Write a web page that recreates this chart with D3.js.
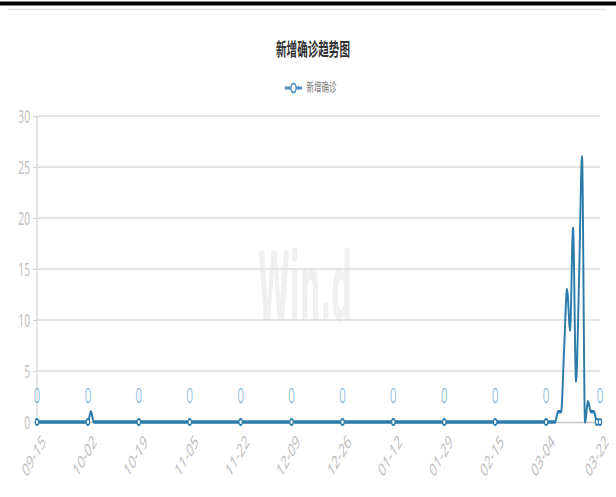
<!DOCTYPE html>
<html><head><meta charset="utf-8">
<script src="https://cdn.jsdelivr.net/npm/d3@7/dist/d3.min.js"></script>
<style>html,body{margin:0;padding:0;background:#fff;}svg{display:block;}</style>
</head><body>
<script>
const titleText = "新增确诊趋势图";
const seriesName = "新增确诊";
const startDate = "2021-09-15";
const values = [
 0,0,0,0,0,0,0,0,0,0,
 0,0,0,0,0,0,0,0,1,0,
 0,0,0,0,0,0,0,0,0,0,
 0,0,0,0,0,0,0,0,0,0,
 0,0,0,0,0,0,0,0,0,0,
 0,0,0,0,0,0,0,0,0,0,
 0,0,0,0,0,0,0,0,0,0,
 0,0,0,0,0,0,0,0,0,0,
 0,0,0,0,0,0,0,0,0,0,
 0,0,0,0,0,0,0,0,0,0,
 0,0,0,0,0,0,0,0,0,0,
 0,0,0,0,0,0,0,0,0,0,
 0,0,0,0,0,0,0,0,0,0,
 0,0,0,0,0,0,0,0,0,0,
 0,0,0,0,0,0,0,0,0,0,
 0,0,0,0,0,0,0,0,0,0,
 0,0,0,0,0,0,0,0,0,0,
 0,0,0,0,1,1,7,13,9,19,
 4,14,26,0,2,1,1,0,0
];
const tickLabels = ["09-15","10-02","10-19","11-05","11-22","12-09","12-26","01-12","01-29","02-15","03-04","03-22"];
const yTicks = [0,5,10,15,20,25,30];

const W = 616, H = 497, sx = 0.57;
const fmt = d3.timeFormat("%m-%d");
const t0 = d3.timeParse("%Y-%m-%d")(startDate);
const dates = values.map((v,i) => fmt(d3.timeDay.offset(t0, i)));
const data = values.map((v,i) => ({i, date: dates[i], v}));

const svg = d3.select("body").append("svg").attr("width", W).attr("height", H);
svg.append("rect").attr("x",0).attr("y",1.5).attr("width",W).attr("height",4).attr("fill","#000");
svg.append("line").attr("x1",8).attr("x2",606).attr("y1",9.5).attr("y2",9.5).attr("stroke","#e2e2e2").attr("stroke-width",1.5);

const g = svg.append("g").attr("transform", `scale(${sx},1)`);
const x = d3.scaleLinear().domain([0, values.length-1]).range([37/sx, 600/sx]);
const y = d3.scaleLinear().domain([0,30]).range([422,116]);

// watermark
g.append("text").attr("x", 258/sx).attr("y", 321).attr("textLength", 94/sx).attr("lengthAdjust","spacingAndGlyphs")
 .attr("font-family","DejaVu Sans").attr("font-size",96).attr("font-weight","bold")
 .attr("fill","#f0f0f0").text("Win.d");

// title
g.append("text").attr("x", 313/sx).attr("y", 56).attr("text-anchor","middle")
 .attr("textLength", 74/sx).attr("lengthAdjust","spacingAndGlyphs")
 .attr("font-family","Noto Sans CJK SC").attr("font-weight","bold").attr("font-size",18).attr("fill","#333").text(titleText);

// legend
const lg = g.append("g");
lg.append("line").attr("x1",285/sx).attr("x2",302/sx).attr("y1",88).attr("y2",88).attr("stroke","#4a8fbb").attr("stroke-width",3);
lg.append("circle").attr("cx",293.5/sx).attr("cy",88).attr("r",4.5).attr("fill","#fff").attr("stroke","#4a8fbb").attr("stroke-width",2.2);
lg.append("text").attr("x",306.5/sx).attr("y",92.5).attr("textLength",30/sx).attr("lengthAdjust","spacingAndGlyphs")
 .attr("font-family","Noto Sans CJK SC").attr("font-size",12.5).attr("fill","#777").text(seriesName);

// grid
g.append("g").selectAll("line").data(yTicks.filter(d=>d>0)).join("line")
 .attr("x1", x.range()[0]).attr("x2", x.range()[1]).attr("y1", d=>y(d)).attr("y2", d=>y(d))
 .attr("stroke","#dcdcdc").attr("stroke-width",1.5);

// y axis
const ya = g.append("g").attr("transform", `translate(${x.range()[0]},0)`)
 .call(d3.axisLeft(y).tickValues(yTicks).tickSize(4/sx).tickPadding(3/sx));
ya.select(".domain").attr("stroke","#c4c4c4").attr("stroke-width",1.5).attr("d", `M0,${y(30)}V${y(0)}`);
ya.selectAll(".tick line").attr("stroke","#c4c4c4");
ya.selectAll(".tick text").attr("fill","#c0c0c0").attr("font-family","Noto Sans").attr("font-size",18).attr("dy","0.36em");

// x axis
const labelIdx = data.filter(d => tickLabels.includes(d.date) && (d.i % 17 === 0 || d.i === values.length-1)).map(d=>d.i);
const xa = g.append("g").attr("transform", `translate(0,${y(0)})`)
 .call(d3.axisBottom(x).tickValues(labelIdx).tickSize(4).tickFormat(i => dates[i]));
xa.select(".domain").attr("stroke","#c4c4c4").attr("stroke-width",1.5);
xa.selectAll(".tick line").attr("stroke","#c4c4c4");
xa.selectAll(".tick text").attr("fill","#c0c0c0").attr("font-family","Noto Sans").attr("font-size",19)
 .attr("text-anchor","end").attr("transform","translate(6,11) rotate(-45)").attr("x",0).attr("y",0).attr("dy","0.75em");

// line
const line = d3.line().x(d=>x(d.i)).y(d=>y(d.v)).curve(d3.curveMonotoneX);
g.append("path").datum(data).attr("d", line).attr("fill","none").attr("stroke","#2b7bab").attr("stroke-width",3.4).attr("stroke-linejoin","round");

// symbols
const marks = data.filter(d => d.i % 17 === 0 || d.i === values.length-1);
g.append("g").selectAll("circle").data(marks).join("circle")
 .attr("cx", d=>x(d.i)).attr("cy", d=>y(d.v)).attr("r",3)
 .attr("fill","#fff").attr("stroke","#2b7bab").attr("stroke-width",1.8);

// data labels
const lbls = data.filter(d => (d.i % 17 === 0 && d.i <= 170) || d.i === values.length-1);
g.append("g").selectAll("text").data(lbls).join("text")
 .attr("x", d=>x(d.i)).attr("y", d=>y(d.v)-19).attr("text-anchor","middle")
 .attr("font-family","Noto Sans").attr("font-weight",300).attr("font-size",20).attr("fill","#6aa6cc").text(d=>d.v);
</script>
</body></html>
